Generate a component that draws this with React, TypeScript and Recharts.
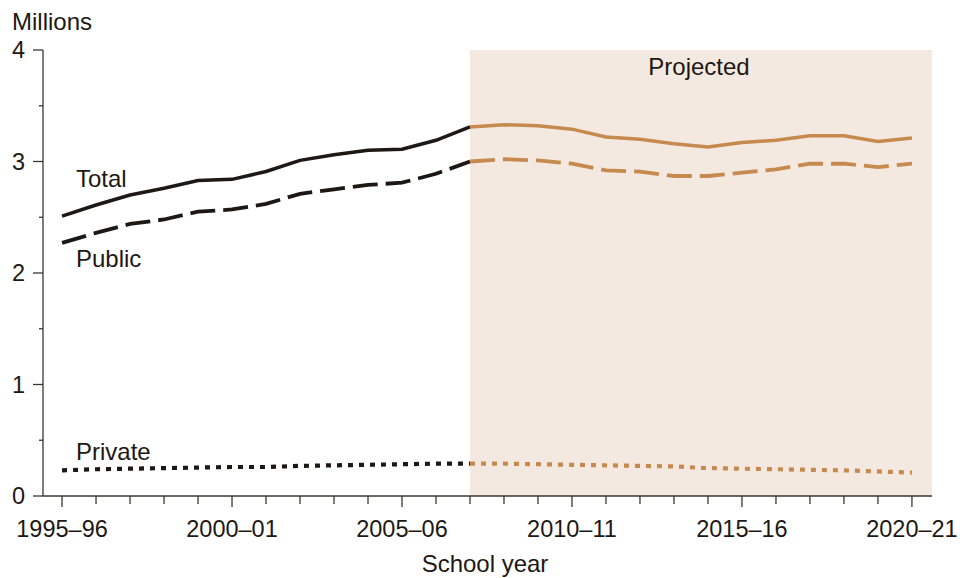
import React from 'react';
import { LineChart, Line, XAxis, YAxis, ReferenceArea } from 'recharts';

const years = [
  '1995–96', '1996–97', '1997–98', '1998–99', '1999–2000', '2000–01', '2001–02', '2002–03', '2003–04',
  '2004–05', '2005–06', '2006–07', '2007–08', '2008–09', '2009–10', '2010–11', '2011–12', '2012–13',
  '2013–14', '2014–15', '2015–16', '2016–17', '2017–18', '2018–19', '2019–20', '2020–21'
];

// millions of graduates
const total = [
  2.51, 2.61, 2.70, 2.76, 2.83, 2.84, 2.91, 3.01, 3.06, 3.10, 3.11, 3.19, 3.31,
  3.33, 3.32, 3.29, 3.22, 3.20, 3.16, 3.13, 3.17, 3.19, 3.23, 3.23, 3.18, 3.21
];
const publicSchools = [
  2.27, 2.36, 2.44, 2.48, 2.55, 2.57, 2.62, 2.71, 2.75, 2.79, 2.81, 2.89, 3.00,
  3.02, 3.01, 2.98, 2.92, 2.91, 2.87, 2.87, 2.90, 2.93, 2.98, 2.98, 2.95, 2.98
];
const privateSchools = [
  0.23, 0.24, 0.245, 0.25, 0.255, 0.26, 0.26, 0.27, 0.275, 0.28, 0.285, 0.29, 0.29,
  0.29, 0.285, 0.28, 0.275, 0.27, 0.265, 0.25, 0.245, 0.24, 0.235, 0.23, 0.22, 0.21
];

const firstProjected = 12;
const labelledYears = ['1995–96', '2000–01', '2005–06', '2010–11', '2015–16', '2020–21'];
const yTicks = [0, 0.5, 1, 1.5, 2, 2.5, 3, 3.5, 4];

const data = years.map((year, i) => ({
  i,
  year,
  totalHist: i <= firstProjected ? total[i] : null,
  totalProj: i >= firstProjected ? total[i] : null,
  publicHist: i <= firstProjected ? publicSchools[i] : null,
  publicProj: i >= firstProjected ? publicSchools[i] : null,
  privateHist: i <= firstProjected ? privateSchools[i] : null,
  privateProj: i >= firstProjected ? privateSchools[i] : null,
}));

const INK = '#1d1813';
const TAN = '#c68a4f';
const SHADE = '#f4e9e1';
const AXIS = '#3a3633';
const FONT = '"Liberation Sans", Arial, Helvetica, sans-serif';

const XTick = (props: any) => {
  const { x, y, payload } = props;
  const label = years[payload.value];
  const major = labelledYears.includes(label);
  return (
    <g>
      <line x1={x} x2={x} y1={y} y2={y + (major ? 11 : 8)} stroke={AXIS} strokeWidth={1.3} />
      {major && (
        <text x={x} y={y + 41} textAnchor="middle" fontSize={23.5} fontFamily={FONT} fill={INK}>
          {label}
        </text>
      )}
    </g>
  );
};

const YTick = (props: any) => {
  const { x, y, payload } = props;
  const major = Number.isInteger(payload.value);
  return (
    <g>
      <line x1={x - (major ? 10 : 4)} x2={x} y1={y} y2={y} stroke={AXIS} strokeWidth={1.3} />
      {major && (
        <text x={x - 18} y={y + 8} textAnchor="end" fontSize={23.5} fontFamily={FONT} fill={INK}>
          {payload.value}
        </text>
      )}
    </g>
  );
};

const textStyle = { fontSize: 24, fontFamily: FONT, fill: INK } as const;

export default function App() {
  return (
    <div style={{ position: 'absolute', left: 0, top: 0, width: 974, height: 578, background: '#fff' }}>
      <LineChart width={974} height={578} data={data} margin={{ top: 50, right: 42, bottom: 22, left: 0 }}>
        <ReferenceArea
          x1={firstProjected}
          x2={25.59}
          y1={0}
          y2={4}
          fill={SHADE}
          fillOpacity={1}
          stroke="none"
          ifOverflow="visible"
        />
        <XAxis
          dataKey="i"
          type="number"
          domain={[-0.56, 25.59]}
          ticks={years.map((_, i) => i)}
          interval={0}
          tick={<XTick />}
          tickLine={false}
          tickSize={0}
          tickMargin={0}
          height={60}
          axisLine={{ stroke: AXIS, strokeWidth: 1.3 }}
          allowDataOverflow
        />
        <YAxis
          type="number"
          domain={[0, 4]}
          ticks={yTicks}
          interval={0}
          tick={<YTick />}
          tickLine={false}
          tickSize={0}
          tickMargin={0}
          width={43}
          axisLine={{ stroke: AXIS, strokeWidth: 1.3 }}
        />
        <Line dataKey="totalHist" stroke={INK} strokeWidth={3.5} dot={false} isAnimationActive={false} />
        <Line dataKey="totalProj" stroke={TAN} strokeWidth={3.5} dot={false} isAnimationActive={false} />
        <Line dataKey="publicHist" stroke={INK} strokeWidth={3.8} strokeDasharray="25 8" dot={false} isAnimationActive={false} />
        <Line dataKey="publicProj" stroke={TAN} strokeWidth={3.8} strokeDasharray="25 8" dot={false} isAnimationActive={false} />
        <Line dataKey="privateHist" stroke={INK} strokeWidth={4.2} strokeDasharray="5 6" dot={false} isAnimationActive={false} />
        <Line dataKey="privateProj" stroke={TAN} strokeWidth={4.2} strokeDasharray="5 6" dot={false} isAnimationActive={false} />
      </LineChart>
      <svg width={974} height={578} style={{ position: 'absolute', left: 0, top: 0, pointerEvents: 'none' }}>
        <text x={12} y={30} {...textStyle}>Millions</text>
        <text x={699} y={75} textAnchor="middle" {...textStyle}>Projected</text>
        <text x={76} y={187} {...textStyle}>Total</text>
        <text x={76} y={267} {...textStyle}>Public</text>
        <text x={76} y={460} {...textStyle}>Private</text>
        <text x={485} y={572} textAnchor="middle" {...textStyle}>School year</text>
      </svg>
    </div>
  );
}
